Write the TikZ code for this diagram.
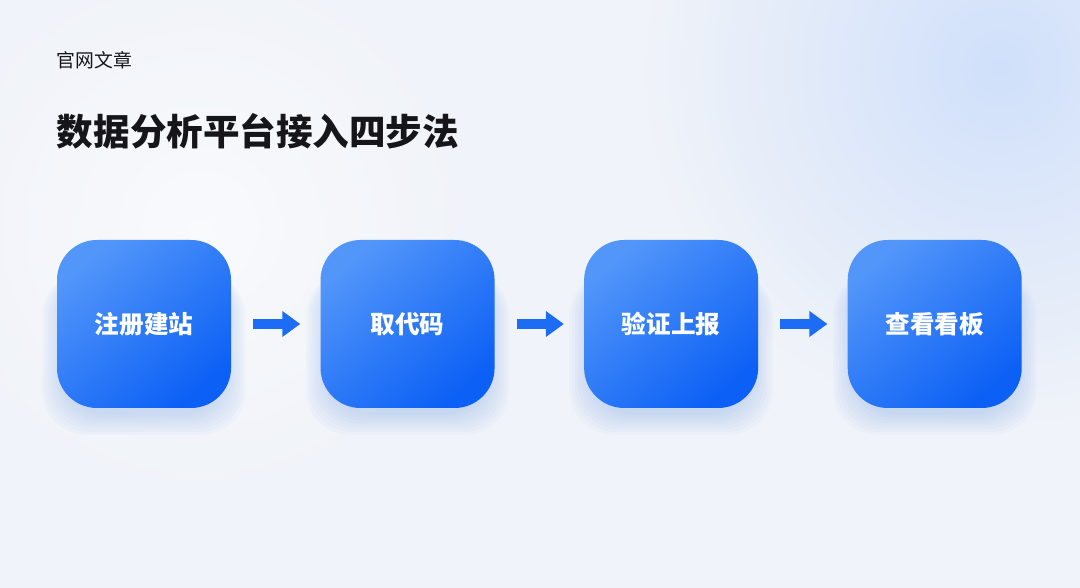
\documentclass[tikz,border=0pt]{standalone}
\usepackage{fontspec}
\usepackage{xcolor}
\usepackage{tikz}
\usetikzlibrary{arrows.meta, positioning, calc}
\setmainfont{Noto Sans CJK SC}
\newfontfamily\cjk{Noto Sans CJK SC}
\definecolor{bgbase}{RGB}{240,243,249}
\definecolor{bgblue}{RGB}{208,224,250}
\definecolor{boxlight}{RGB}{82,150,250}
\definecolor{boxdark}{RGB}{12,96,245}
\definecolor{glow}{RGB}{120,165,240}
\definecolor{arrowblue}{RGB}{28,108,246}
\definecolor{ink}{RGB}{22,22,26}
\pgfdeclarelayer{background}
\pgfsetlayers{background,main}

\begin{document}
\begin{tikzpicture}[
    stepbox/.style={rectangle, rounded corners=1cm, minimum width=4.35cm, minimum height=4.2cm, inner sep=0pt, left color=boxlight, right color=boxdark, shading angle=40, font=\cjk\fontsize{17.5}{20}\bfseries\selectfont, text=white},
    flow/.style={arrowblue, line width=0.25cm, -{Triangle[length=0.45cm, width=0.62cm]}, shorten <=0.55cm, shorten >=0.5cm},
    node distance=2.225cm,
]
\useasboundingbox (0,0) rectangle (27,14.7);
\node[stepbox] (reg)   at (3.6,6.6)       {注册建站};
\node[stepbox] (code)  [right=of reg]     {取代码};
\node[stepbox] (check) [right=of code]    {验证上报};
\node[stepbox] (board) [right=of check]   {查看看板};

\node[anchor=base west, text=ink, font=\cjk\fontsize{13.4}{16}\selectfont]           (tag)   at (1.3,13.0) {官网文章};
\node[anchor=base west, text=ink, font=\cjk\fontsize{26}{30}\bfseries\selectfont]    (title) at (1.3,11.05) {数据分析平台接入四步法};

\draw[flow] (reg) -- (code);
\draw[flow] (code) -- (check);
\draw[flow] (check) -- (board);

% background and soft glow under the boxes
\begin{pgfonlayer}{background}
  \fill[bgbase] (0,0) rectangle (27,14.7);
  \begin{scope}
    \clip (0,0) rectangle (27,14.7);
    \shade[inner color=bgblue, outer color=bgbase] (25,13) circle (9cm);
    \shade[inner color=white, outer color=bgbase, opacity=0.6] (5,9) circle (7cm);
  \end{scope}
  \foreach \n in {reg,code,check,board} {
    \foreach \i in {1,...,8} {
      \fill[glow, opacity=0.045, rounded corners=1.1cm]
        ($(\n.south west)+(-0.07*\i+0.2,-0.07*\i-0.1)$) rectangle ($(\n.north east)+(0.07*\i-0.2,-0.8)$);
    }
  }
\end{pgfonlayer}
\end{tikzpicture}
\end{document}
